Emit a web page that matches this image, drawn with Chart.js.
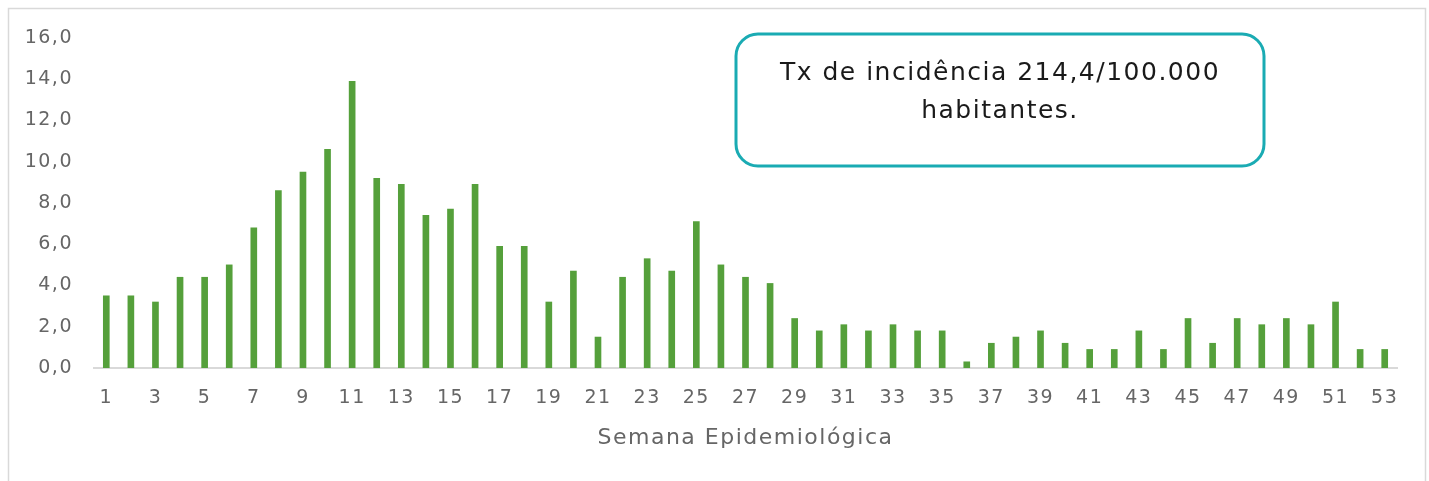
<!DOCTYPE html>
<html><head><meta charset="utf-8">
<script src="https://cdn.jsdelivr.net/npm/chart.js@4.4.1/dist/chart.umd.min.js"></script>
<style>html,body{margin:0;padding:0;background:#fff;overflow:hidden}</style>
</head><body>
<canvas id="c" width="1429" height="481"></canvas>
<script>
const weeks = ['1','2','3','4','5','6','7','8','9','10','11','12','13','14','15','16','17','18','19','20','21','22','23','24','25','26','27','28','29','30','31','32','33','34','35','36','37','38','39','40','41','42','43','44','45','46','47','48','49','50','51','52','53'];
const incidence = [3.5,3.5,3.2,4.4,4.4,5.0,6.8,8.6,9.5,10.6,13.9,9.2,8.9,7.4,7.7,8.9,5.9,5.9,3.2,4.7,1.5,4.4,5.3,4.7,7.1,5.0,4.4,4.1,2.4,1.8,2.1,1.8,2.1,1.8,1.8,0.3,1.2,1.5,1.8,1.2,0.9,0.9,1.8,0.9,2.4,1.2,2.4,2.1,2.4,2.1,3.2,0.9,0.9];
const yTickValues = [0,2,4,6,8,10,12,14,16];
const xTitle = 'Semana Epidemiológica';
const noteLines = ['Tx de incidência 214,4/100.000','habitantes.'];

const FONT = "'DejaVu Sans', sans-serif";
const GRAY = '#666666';

const framePlugin = {
  id: 'frame',
  beforeDraw(chart) {
    const ctx = chart.ctx;
    ctx.save();
    ctx.fillStyle = '#fff';
    ctx.fillRect(0, 0, chart.width, chart.height);
    ctx.strokeStyle = '#d9d9d9';
    ctx.lineWidth = 1.5;
    ctx.beginPath();
    ctx.moveTo(8.5, 490); ctx.lineTo(8.5, 8.5); ctx.lineTo(1425.5, 8.5); ctx.lineTo(1425.5, 490);
    ctx.stroke();
    ctx.restore();
    ctx.letterSpacing = '1.5px';
  }
};

const notePlugin = {
  id: 'note',
  afterDraw(chart) {
    const ctx = chart.ctx;
    ctx.save();
    ctx.beginPath();
    ctx.roundRect(736, 34, 528, 132, 22);
    ctx.fillStyle = '#fff';
    ctx.fill();
    ctx.lineWidth = 3;
    ctx.strokeStyle = '#1AABB3';
    ctx.stroke();
    ctx.fillStyle = '#1a1a1a';
    ctx.font = "25px " + FONT;
    ctx.letterSpacing = '1.5px';
    ctx.textAlign = 'center';
    ctx.textBaseline = 'middle';
    ctx.fillText(noteLines[0], 1000, 73);
    ctx.fillText(noteLines[1], 1000, 111);
    ctx.restore();
    ctx.letterSpacing = '0px';
  }
};

new Chart(document.getElementById('c'), {
  type: 'bar',
  data: {
    labels: weeks,
    datasets: [{
      data: incidence,
      backgroundColor: '#55A03B',
      barThickness: 6
    }]
  },
  options: {
    responsive: false,
    animation: false,
    layout: { padding: { left: 0, right: 32, top: 38, bottom: 0 } },
    plugins: { legend: { display: false }, tooltip: { enabled: false } },
    scales: {
      x: {
        grid: { display: false, drawTicks: false },
        border: { color: '#d9d9d9', width: 2 },
        ticks: {
          autoSkip: false, maxRotation: 0, padding: 19,
          color: GRAY, font: { family: FONT, size: 19 },
          callback: (v, i) => (i % 2 === 0 ? weeks[i] : '')
        },
        title: {
          display: true, text: xTitle, color: GRAY,
          font: { family: FONT, size: 22 }, padding: { top: 0, bottom: 30 }
        },
        afterFit: s => { s.height = 113; }
      },
      y: {
        min: 0, max: 16,
        afterBuildTicks: s => { s.ticks = yTickValues.map(v => ({ value: v })); },
        grid: { display: false, drawTicks: false },
        border: { display: false },
        ticks: {
          padding: 21, color: GRAY, font: { family: FONT, size: 19 },
          callback: v => v.toFixed(1).replace('.', ',')
        },
        afterFit: s => { s.width = 94; }
      }
    }
  },
  plugins: [framePlugin, notePlugin]
});
</script>
</body></html>
